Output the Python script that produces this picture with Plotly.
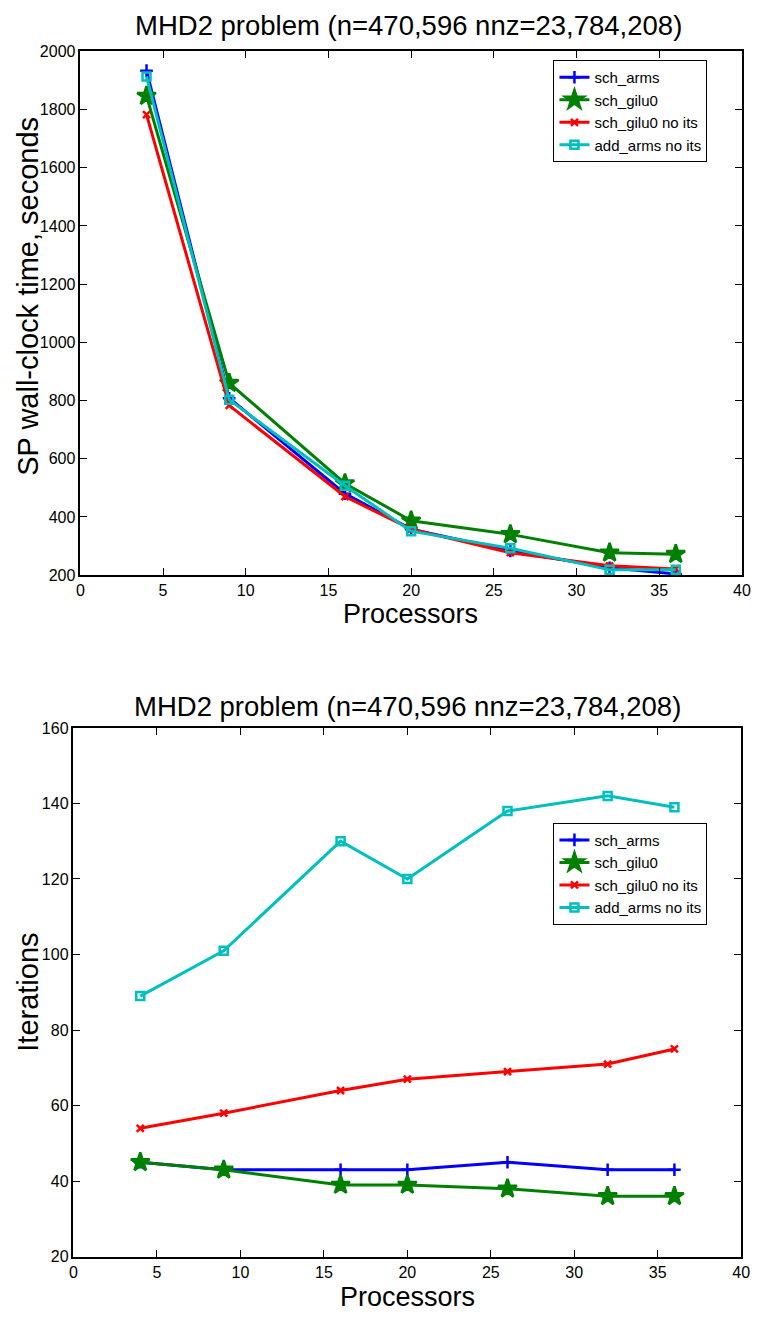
import plotly.graph_objects as go

# ---- data ----
procs = [4, 9, 16, 20, 26, 32, 36]
names = ["sch_arms", "sch_gilu0", "sch_gilu0 no its", "add_arms no its"]

time_sch_arms = [1934, 808, 480, 358, 283, 225, 204]
time_sch_gilu0 = [1847, 860, 515, 387, 340, 277, 272]
time_sch_gilu0_noits = [1783, 783, 470, 358, 277, 232, 221]
time_add_arms_noits = [1914, 803, 507, 351, 292, 218, 218]

it_sch_arms = [45, 43, 43, 43, 45, 43, 43]
it_sch_gilu0 = [45, 43, 39, 39, 38, 36, 36]
it_sch_gilu0_noits = [54, 58, 64, 67, 69, 71, 75]
it_add_arms_noits = [89, 101, 130, 120, 138, 142, 139]

title_text = "MHD2 problem (n=470,596 nnz=23,784,208)"
xlabel = "Processors"
ylabel_top = "SP wall-clock time, seconds"
ylabel_bot = "Iterations"

# ---- styles ----
colors = ["#0000FF", "#008000", "#FF0000", "#00BFBF"]
symbols = ["cross-thin", "star", "x-thin", "square-open"]
msizes = [9, 14, 7, 8]

W, H = 761, 1319
FONT = "Liberation Sans, Arial, sans-serif"

fig = go.Figure()

top_series = [time_sch_arms, time_sch_gilu0, time_sch_gilu0_noits, time_add_arms_noits]
bot_series = [it_sch_arms, it_sch_gilu0, it_sch_gilu0_noits, it_add_arms_noits]

for i, (nm, ys) in enumerate(zip(names, top_series)):
    fig.add_trace(go.Scatter(
        x=procs, y=ys, name=nm, mode="lines+markers",
        line=dict(color=colors[i], width=3),
        marker=dict(symbol=symbols[i], size=msizes[i], color=colors[i],
                    line=dict(color=colors[i], width=2.5)),
        xaxis="x", yaxis="y", legend="legend"))

for i, (nm, ys) in enumerate(zip(names, bot_series)):
    fig.add_trace(go.Scatter(
        x=procs, y=ys, name=nm, mode="lines+markers",
        line=dict(color=colors[i], width=3),
        marker=dict(symbol=symbols[i], size=msizes[i], color=colors[i],
                    line=dict(color=colors[i], width=2.5)),
        xaxis="x2", yaxis="y2", legend="legend2"))

def px_x(p):
    return p / W

def px_y(p):
    return 1 - p / H

axis_common = dict(showline=True, linecolor="black", linewidth=1.5, mirror="ticks",
                   ticks="inside", ticklen=7, tickwidth=1, tickcolor="black",
                   showgrid=False, zeroline=False,
                   tickfont=dict(family=FONT, size=16, color="black"))

leg_common = dict(xanchor="left", yanchor="top",
                  bgcolor="white", bordercolor="black", borderwidth=1,
                  font=dict(family=FONT, size=15, color="black"),
                  tracegroupgap=0, itemwidth=30)

fig.update_layout(
    width=W, height=H, margin=dict(l=0, r=0, t=0, b=0),
    paper_bgcolor="white", plot_bgcolor="white",
    showlegend=True,
    xaxis=dict(domain=[px_x(77.7), px_x(750.7)], range=[0, 40], dtick=5,
               anchor="y", **axis_common),
    yaxis=dict(domain=[px_y(574.5), px_y(44)], range=[200, 2000], dtick=200,
               anchor="x", **axis_common),
    xaxis2=dict(domain=[px_x(70.7), px_x(750)], range=[0, 40], dtick=5,
                anchor="y2", **axis_common),
    yaxis2=dict(domain=[px_y(1265), px_y(729.3)], range=[20, 160], dtick=20,
                anchor="x2", **axis_common),
    legend=dict(x=px_x(559), y=px_y(52.7), **leg_common),
    legend2=dict(x=px_x(559), y=px_y(825.3), **leg_common),
)

ann = []
def add_text(text, xp, yp, size, angle=0):
    ann.append(dict(text=text, x=px_x(xp), y=px_y(yp), xref="paper", yref="paper",
                    showarrow=False, xanchor="center", yanchor="middle", textangle=angle,
                    font=dict(family=FONT, size=size, color="black")))

add_text(title_text, 412, 18, 27.5)
add_text(title_text, 411, 708, 27.5)
add_text(xlabel, 414, 614, 27)
add_text(xlabel, 411, 1306, 27)
add_text(ylabel_top, 25, 292, 29, -90)
add_text(ylabel_bot, 25, 997, 29, -90)
fig.update_layout(annotations=ann)

fig.write_html("out.html",
               config={"displayModeBar": False},
               post_script="document.body.style.margin='0';document.body.style.overflow='hidden';")
